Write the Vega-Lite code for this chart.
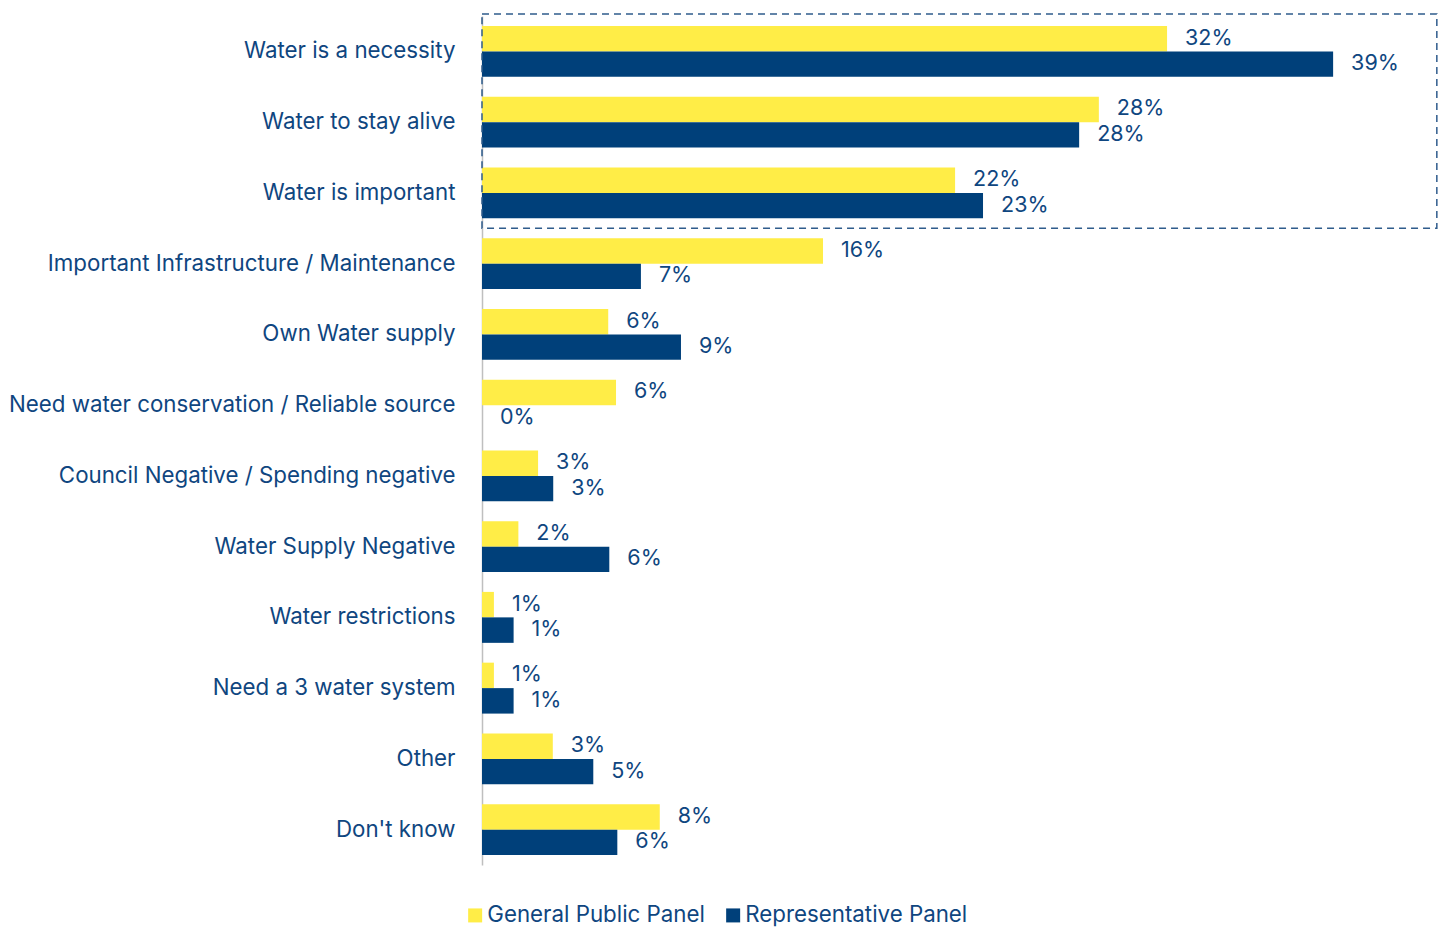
{
  "$schema": "https://vega.github.io/schema/vega-lite/v6.json",
  "autosize": "none",
  "width": 957,
  "height": 849,
  "padding": {"left": 482, "top": 16, "right": 6, "bottom": 62},
  "background": "white",
  "config": {
    "view": {"stroke": null},
    "font": "Inter",
    "text": {"font": "Inter"}
  },
  "datasets": {
    "bars": [
      {"category": "Water is a necessity", "panel": "General Public Panel", "value": 31.64, "label": "32%"},
      {"category": "Water is a necessity", "panel": "Representative Panel", "value": 39.31, "label": "39%"},
      {"category": "Water to stay alive", "panel": "General Public Panel", "value": 28.49, "label": "28%"},
      {"category": "Water to stay alive", "panel": "Representative Panel", "value": 27.58, "label": "28%"},
      {"category": "Water is important", "panel": "General Public Panel", "value": 21.85, "label": "22%"},
      {"category": "Water is important", "panel": "Representative Panel", "value": 23.14, "label": "23%"},
      {"category": "Important Infrastructure / Maintenance", "panel": "General Public Panel", "value": 15.75, "label": "16%"},
      {"category": "Important Infrastructure / Maintenance", "panel": "Representative Panel", "value": 7.34, "label": "7%"},
      {"category": "Own Water supply", "panel": "General Public Panel", "value": 5.83, "label": "6%"},
      {"category": "Own Water supply", "panel": "Representative Panel", "value": 9.19, "label": "9%"},
      {"category": "Need water conservation / Reliable source", "panel": "General Public Panel", "value": 6.19, "label": "6%"},
      {"category": "Need water conservation / Reliable source", "panel": "Representative Panel", "value": 0, "label": "0%"},
      {"category": "Council Negative / Spending negative", "panel": "General Public Panel", "value": 2.59, "label": "3%"},
      {"category": "Council Negative / Spending negative", "panel": "Representative Panel", "value": 3.29, "label": "3%"},
      {"category": "Water Supply Negative", "panel": "General Public Panel", "value": 1.68, "label": "2%"},
      {"category": "Water Supply Negative", "panel": "Representative Panel", "value": 5.88, "label": "6%"},
      {"category": "Water restrictions", "panel": "General Public Panel", "value": 0.55, "label": "1%"},
      {"category": "Water restrictions", "panel": "Representative Panel", "value": 1.46, "label": "1%"},
      {"category": "Need a 3 water system", "panel": "General Public Panel", "value": 0.55, "label": "1%"},
      {"category": "Need a 3 water system", "panel": "Representative Panel", "value": 1.46, "label": "1%"},
      {"category": "Other", "panel": "General Public Panel", "value": 3.27, "label": "3%"},
      {"category": "Other", "panel": "Representative Panel", "value": 5.14, "label": "5%"},
      {"category": "Don't know", "panel": "General Public Panel", "value": 8.21, "label": "8%"},
      {"category": "Don't know", "panel": "Representative Panel", "value": 6.25, "label": "6%"}
    ],
    "box": [
      {"x0": 0, "x1": 44.1, "y0": -0.03, "y1": 3}
    ]
  },
  "layer": [
    {
      "data": {"name": "bars"},
      "encoding": {
        "y": {
          "field": "category",
          "type": "nominal",
          "sort": null,
          "scale": {"paddingInner": 0.28, "paddingOuter": 0.14},
          "axis": {
            "title": null,
            "ticks": false,
            "grid": false,
            "domainColor": "#bfbfbf",
            "domainWidth": 1.5,
            "labelPadding": 27,
            "labelFont": "Inter",
            "labelFontSize": 22.3,
            "labelColor": "#0f4680",
            "labelLimit": 600
          }
        },
        "yOffset": {
          "field": "panel",
          "type": "nominal",
          "scale": {"domain": ["General Public Panel", "Representative Panel"], "paddingInner": 0, "paddingOuter": 0}
        },
        "x": {
          "field": "value",
          "type": "quantitative",
          "scale": {"domain": [0, 44.2], "nice": false, "zero": true},
          "axis": null
        }
      },
      "layer": [
        {
          "mark": {"type": "bar", "cornerRadius": 0},
          "encoding": {
            "color": {
              "field": "panel",
              "type": "nominal",
              "scale": {"domain": ["General Public Panel", "Representative Panel"], "range": ["#FFED47", "#00407A"]},
              "legend": {
                "title": null,
                "orient": "none",
                "direction": "horizontal",
                "legendX": -18,
                "legendY": 888,
                "symbolType": "square",
                "symbolSize": 196,
                "symbolStrokeWidth": 0,
                "labelFont": "Inter",
                "labelFontSize": 22.3,
                "labelColor": "#0f4680",
                "labelOffset": 1,
                "columnPadding": 17,
                "labelLimit": 400
              }
            }
          }
        },
        {
          "mark": {"type": "text", "align": "left", "baseline": "middle", "dx": 18, "fontSize": 21.5, "font": "Inter", "color": "#0f4680"},
          "encoding": {"text": {"field": "label", "type": "nominal"}}
        }
      ]
    },
    {
      "data": {"name": "box"},
      "mark": {"type": "rect", "fill": null, "stroke": "#2f5c8c", "strokeWidth": 1.5, "strokeDash": [7, 5]},
      "encoding": {
        "x": {"field": "x0", "type": "quantitative", "scale": {"domain": [0, 44.2], "nice": false, "zero": true}, "axis": null},
        "x2": {"field": "x1"},
        "y": {"field": "y0", "type": "quantitative", "scale": {"domain": [0, 12], "reverse": true, "nice": false, "zero": true}, "axis": null},
        "y2": {"field": "y1"}
      }
    }
  ],
  "resolve": {"scale": {"y": "independent"}, "axis": {"y": "independent"}}
}
